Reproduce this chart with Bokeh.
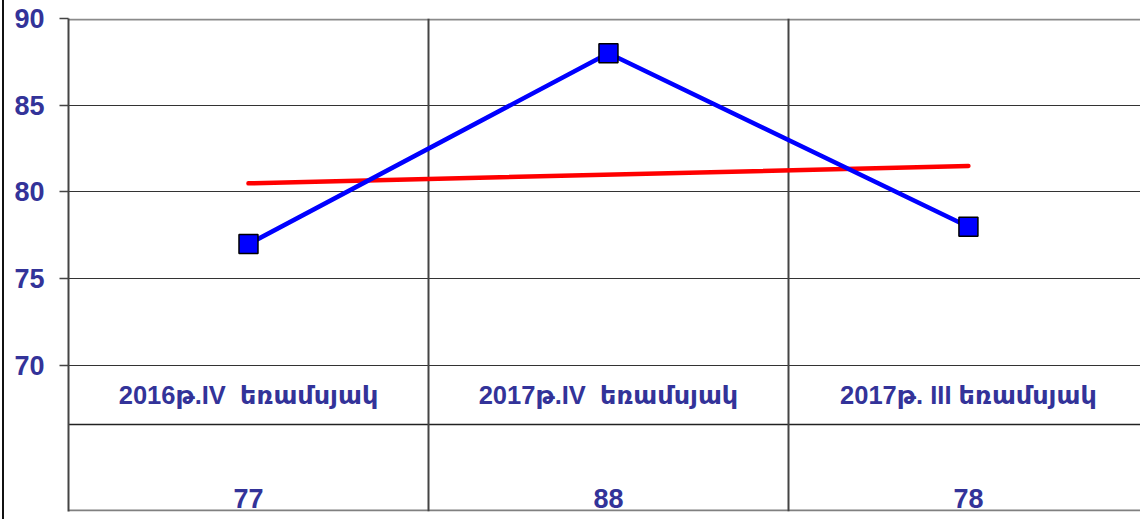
from bokeh.plotting import figure
from bokeh.models import Range1d, FixedTicker, ColumnDataSource, InlineStyleSheet
from bokeh.core.properties import value
from bokeh.embed import file_html
from bokeh.resources import INLINE

# ---- data ----
categories = ["2016թ.IV\u00a0 եռամսյակ", "2017թ.IV\u00a0 եռամսյակ", "2017թ. III եռամսյակ"]
values = [77, 88, 78]
trend = [80.5, 81.0, 81.5]
y_ticks = [70, 75, 80, 85, 90]

TEXT_COLOR = "#333399"
FONT = "'Liberation Sans', 'DejaVu Sans', sans-serif"

n = len(categories)
xc = [i + 0.5 for i in range(n)]
src = ColumnDataSource(dict(x=xc, y=values, trend=trend, cat=categories,
                            val=[str(v) for v in values]))

Y_MIN, Y_MAX = 61.585, 90
ROW_SPLIT = 66.6
CAT_Y = 68.29
VAL_Y = 62.34

p = figure(width=1140, height=519, output_backend="svg", toolbar_location=None,
           x_range=Range1d(0, 2.978), y_range=Range1d(Y_MIN, Y_MAX),
           min_border_left=68, min_border_right=0, min_border_top=18,
           min_border_bottom=8, background_fill_color="white",
           border_fill_color="white")

# thin page border on the far left
p.stylesheets = [InlineStyleSheet(css=(
    ":host { position: relative; }"
    ":host::after { content: ''; position: absolute; left: 2px; top: 0px;"
    " width: 2px; height: 100%; background: #111; pointer-events: none; }"))]

p.outline_line_color = None

p.xaxis.visible = False
p.xgrid.visible = False

yax = p.yaxis[0]
yax.ticker = FixedTicker(ticks=y_ticks)
yax.minor_tick_line_color = None
yax.major_tick_in = 0
yax.major_tick_out = 9
yax.major_tick_line_color = "#444444"
yax.major_tick_line_width = 1.5
yax.axis_line_color = "#444444"
yax.axis_line_width = 2
yax.major_label_text_font = FONT
yax.major_label_text_font_size = "27px"
yax.major_label_text_font_style = "bold"
yax.major_label_text_color = TEXT_COLOR
yax.major_label_standoff = 15

p.ygrid.ticker = FixedTicker(ticks=y_ticks[:-1])
p.ygrid.grid_line_color = "#333333"
p.ygrid.grid_line_width = 1.2

# table structure
p.hspan(y=[Y_MAX - 0.05], line_color="#8a8a8a", line_width=2)
p.hspan(y=[ROW_SPLIT], line_color="#222222", line_width=1.5)
p.hspan(y=[Y_MIN + 0.04], line_color="#808080", line_width=2)
p.vspan(x=list(range(1, n)), line_color="#444444", line_width=2)

# trend line
p.line(x=[xc[0], xc[-1]], y=[trend[0], trend[-1]], line_color="#ff0000",
       line_width=4.5, line_cap="round")

# series
p.line("x", "y", source=src, line_color="#0000ff", line_width=4.5)
p.scatter("x", "y", source=src, marker="square", size=19,
          fill_color="#0000ff", line_color="#000000", line_width=1.5)

# data table texts
p.text(x="x", y=CAT_Y, text="cat", source=src, text_align="center",
       text_baseline="middle", text_font=value(FONT),
       text_font_size="25.5px", text_font_style="bold", text_color=TEXT_COLOR)
p.text(x="x", y=VAL_Y, text="val", source=src, text_align="center",
       text_baseline="middle", text_font=value(FONT),
       text_font_size="27px", text_font_style="bold", text_color=TEXT_COLOR)

open("out.html", "w").write(file_html(p, INLINE))
